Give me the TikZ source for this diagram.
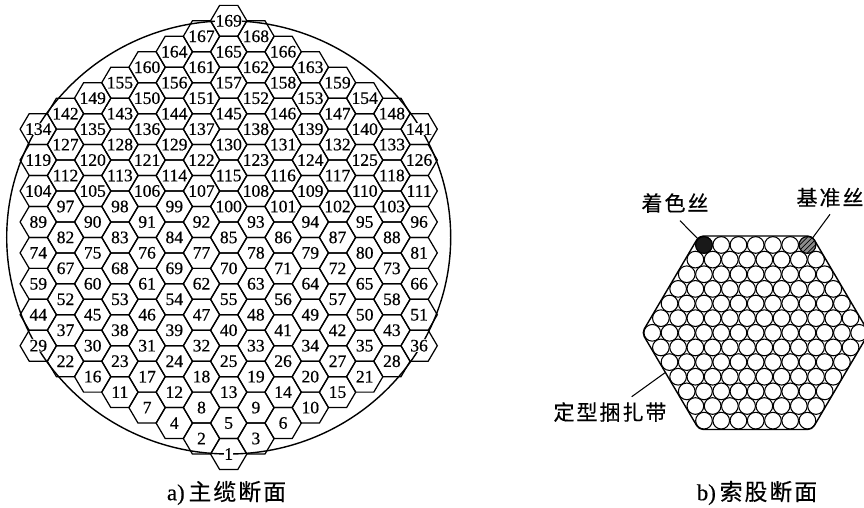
\documentclass[tikz,border=0pt]{standalone}
\usepackage{fontspec}
\usetikzlibrary{patterns}
\setmainfont{Liberation Serif}
\newfontfamily\numfont[FakeBold=0.5]{Liberation Serif}
\newfontfamily\cjk[LetterSpace=9,FakeBold=0.3]{Noto Sans CJK SC}

\begin{document}
\begin{tikzpicture}[
            x=0.02cm, y=-0.02cm,
            hexline/.style={draw, line width=0.7pt},
            hexnum/.style={fill=white, inner sep=0.2pt, font=\numfont\fontsize{10}{10}\selectfont},
            wire/.style={circle, draw, line width=0.6pt, inner sep=0pt, minimum size=9.5pt},
            leader/.style={line width=0.6pt},
            note/.style={font=\cjk\fontsize{12}{13}\selectfont, inner sep=0pt},
            caption/.style={font=\cjk\fontsize{13}{14}\selectfont, inner sep=0pt},
            hexcell/.pic={\draw[hexline] (-18.2,0) -- (-9.1,-15.47) -- (9.1,-15.47) -- (18.2,0) -- (9.1,15.47) -- (-9.1,15.47) -- cycle;}
        ]
            \useasboundingbox (0,0) rectangle (864,507);

            % Outer circle of the main cable
            \draw[line width=0.8pt] (228.7,237.4) ellipse [x radius=222, y radius=216.6];

            % Hexagon cells, row by row from the bottom
            \foreach \rowno/\first/\cnt in {0/1/1, 1/2/2, 2/4/3, 3/7/4, 4/11/5, 5/16/6, 6/22/7,
                7/29/8, 8/37/7, 9/44/8, 10/52/7, 11/59/8, 12/67/7, 13/74/8, 14/82/7, 15/89/8,
                16/97/7, 17/104/8, 18/112/7, 19/119/8, 20/127/7, 21/134/8,
                22/142/7, 23/149/6, 24/155/5, 25/160/4, 26/164/3, 27/167/2, 28/169/1} {
                \foreach \i in {1,...,\cnt} {
                    \pgfmathsetmacro{\xpos}{228.7+(2*\i-\cnt-1)*27.2}
                    \pgfmathsetmacro{\ypos}{454-\rowno*15.47}
                    \pic at (\xpos,\ypos) {hexcell};
                }
            }
            \foreach \rowno/\first/\cnt in {0/1/1, 1/2/2, 2/4/3, 3/7/4, 4/11/5, 5/16/6, 6/22/7,
                7/29/8, 8/37/7, 9/44/8, 10/52/7, 11/59/8, 12/67/7, 13/74/8, 14/82/7, 15/89/8,
                16/97/7, 17/104/8, 18/112/7, 19/119/8, 20/127/7, 21/134/8,
                22/142/7, 23/149/6, 24/155/5, 25/160/4, 26/164/3, 27/167/2, 28/169/1} {
                \foreach \i in {1,...,\cnt} {
                    \pgfmathsetmacro{\xpos}{228.7+(2*\i-\cnt-1)*27.2}
                    \pgfmathsetmacro{\ypos}{454-\rowno*15.47}
                    \pgfmathtruncatemacro{\num}{\first+\i-1}
                    \node[hexnum] (cell\num) at (\xpos,\ypos) {\num};
                }
            }

            % Strand outline
            \draw[line width=0.8pt, rounded corners=2.5pt] (699,236) -- (812,236) -- (869,332.8) -- (812,429.5) -- (699,429.5) -- (642,332.8) -- cycle;

            % Wires of the strand
            \foreach \k in {-6,...,6} {
                \pgfmathtruncatemacro{\cnt}{13-abs(\k)}
                \foreach \i in {1,...,\cnt} {
                    \pgfmathsetmacro{\xpos}{755.7+(2*\i-\cnt-1)*8.62}
                    \pgfmathsetmacro{\ypos}{332.8+\k*14.64}
                    \node[wire] (w\k-\i) at (\xpos,\ypos) {};
                }
            }

            % Marked wires
            \node[wire, fill=black!90] (wcolor) at (w-6-1) {};
            \node[wire, preaction={fill=black!45}, pattern=north east lines] (wbase) at (w-6-7) {};

            % Labels
            \node[note] (lcolor) at (675,203) {着色丝};
            \node[note] (lbase) at (830,197.5) {基准丝};
            \node[note] (lband) at (610,412) {定型捆扎带};
            \coordinate (ccolor) at (680,220.7);
            \coordinate (cbase) at (830,214.3);
            \coordinate (cband) at (631.7,396.7);
            \coordinate (eband) at (665,372.7);
            \draw[leader] (ccolor) -- (wcolor);
            \draw[leader] (cbase) -- (wbase);
            \draw[leader] (cband) -- (eband);

            % Captions
            \node[caption] (capa) at (226.5,493) {{\numfont a)\,}主缆断面};
            \node[caption] (capb) at (757,493) {{\numfont b)\,}索股断面};
        \end{tikzpicture}
\end{document}
